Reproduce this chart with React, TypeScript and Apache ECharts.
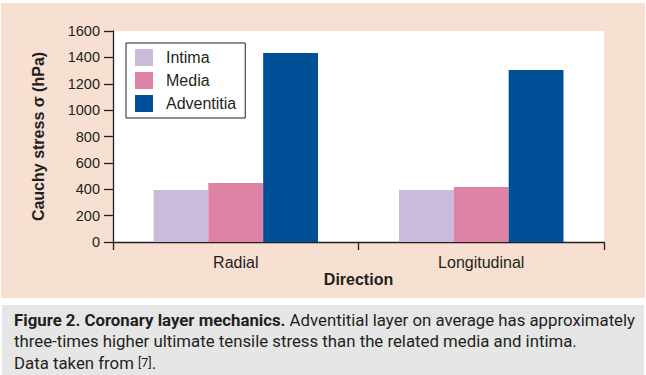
import React, { useEffect, useRef } from "react";
import * as echarts from "echarts";

const categories = ["Radial", "Longitudinal"];
const seriesNames = ["Intima", "Media", "Adventitia"];
const intima = [395, 395];
const media = [447, 417];
const adventitia = [1433, 1304];
const yTicks = { min: 0, max: 1600, interval: 200 };
const colors = ["#c9bbdb", "#de82a6", "#005097"];

const textColor = "#231f20";
const font = "'Liberation Sans', Arial, sans-serif";
const capFont = "Roboto, sans-serif";

export default function App() {
  const ref = useRef<HTMLDivElement>(null);
  useEffect(() => {
    if (!ref.current) return;
    const chart = echarts.init(ref.current, undefined, { renderer: "svg" });
    const values = [intima, media, adventitia];
    chart.setOption({
      animation: false,
      backgroundColor: "#ffffff",
      textStyle: { fontFamily: font, color: textColor },
      graphic: [
        {
          type: "rect",
          z: -10,
          silent: true,
          shape: { x: 1, y: 3, width: 644, height: 295 },
          style: { fill: "#f7dfd2" },
        },
        {
          type: "rect",
          z: -10,
          silent: true,
          shape: { x: 2, y: 305, width: 642, height: 70 },
          style: { fill: "#e6e6e6" },
        },
        {
          type: "text",
          left: 14,
          top: 309,
          style: {
            text:
              "{b|Figure 2. Coronary layer mechanics.} Adventitial layer on average has approximately\nthree-times higher ultimate tensile stress than the related media and intima.\nData taken from {s|[7]}.",
            fontFamily: capFont,
            fontSize: 16.8,
            lineHeight: 21.5,
            fill: textColor,
            rich: {
              b: { fontWeight: "bold", fontFamily: capFont, fontSize: 16.8, lineHeight: 21.5 },
              s: { fontFamily: capFont, fontSize: 12.5, lineHeight: 21.5 },
            },
          },
        },
      ],
      grid: {
        left: 113,
        right: 42,
        top: 31,
        bottom: 133,
        show: true,
        backgroundColor: "#ffffff",
        borderWidth: 0,
        containLabel: false,
      },
      legend: {
        orient: "vertical",
        left: 126,
        top: 43,
        data: seriesNames,
        itemWidth: 18,
        itemHeight: 17,
        itemGap: 6,
        padding: [6, 9, 6, 9],
        borderColor: textColor,
        borderWidth: 1,
        backgroundColor: "#ffffff",
        icon: "rect",
        textStyle: {
          fontSize: 16,
          color: textColor,
          fontFamily: font,
          padding: [0, 0, 0, 8],
        },
      },
      xAxis: {
        type: "category",
        data: categories,
        name: "Direction",
        nameLocation: "middle",
        nameGap: 29,
        nameMoveOverlap: false,
        nameTextStyle: { fontSize: 16, fontWeight: "bold", color: textColor, fontFamily: font },
        axisLine: { show: true, lineStyle: { color: textColor, width: 1.3 } },
        axisTick: { show: true, length: 8, lineStyle: { color: textColor, width: 1.3 } },
        axisLabel: { fontSize: 16, color: textColor, margin: 12, fontFamily: font },
      },
      yAxis: {
        type: "value",
        min: yTicks.min,
        max: yTicks.max,
        interval: yTicks.interval,
        name: "Cauchy stress σ (hPa)",
        nameLocation: "middle",
        nameGap: 67,
        nameMoveOverlap: false,
        nameTextStyle: { fontSize: 16, fontWeight: "bold", color: textColor, fontFamily: font },
        axisLine: { show: true, lineStyle: { color: textColor, width: 1.3 } },
        axisTick: { show: true, length: 9, lineStyle: { color: textColor, width: 1.3 } },
        axisLabel: {
          fontSize: 14.5,
          color: textColor,
          margin: 13,
          fontFamily: font,
          formatter: (v: number) => String(v),
        },
        splitLine: { show: false },
      },
      series: seriesNames.map((name, i) => ({
        name,
        type: "bar",
        data: values[i],
        barGap: "0%",
        barCategoryGap: "33%",
        itemStyle: { color: colors[i] },
      })),
    });
    return () => chart.dispose();
  }, []);
  return (
    <div
      ref={ref}
      style={{ position: "absolute", left: 0, top: 0, width: 646, height: 375 }}
    />
  );
}
